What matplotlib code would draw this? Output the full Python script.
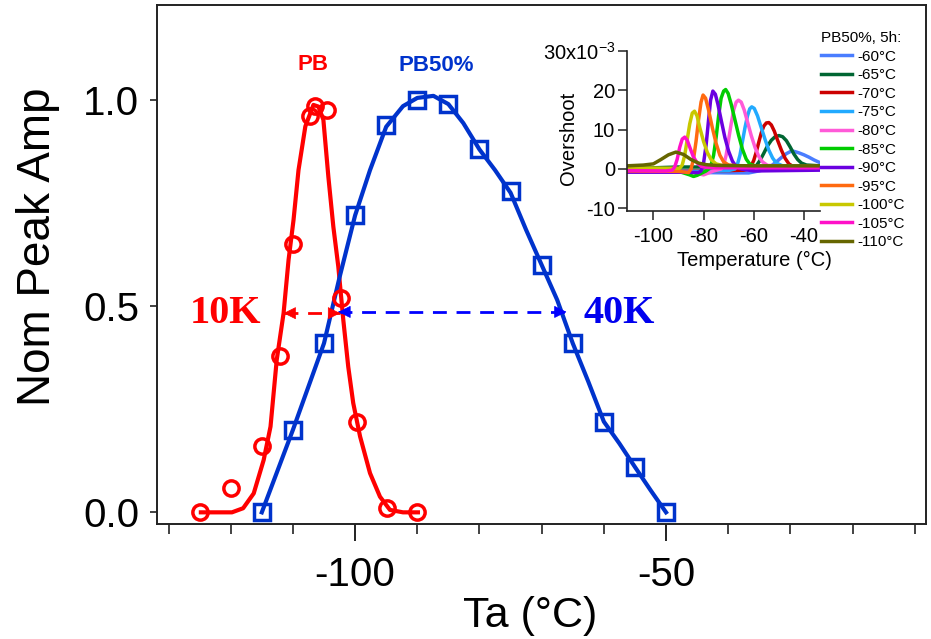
import numpy as np
import matplotlib.pyplot as plt

plt.rcParams['font.family'] = ['Liberation Sans', 'DejaVu Sans']
plt.rcParams['mathtext.default'] = 'regular'
plt.rcParams['axes.unicode_minus'] = False

# --- main plot data ---
pb_x = [-125, -120, -115, -112, -110, -107.2, -106.4, -104.5, -102.2, -99.7, -94.8, -90]
pb_y = [0.0, 0.06, 0.16, 0.38, 0.65, 0.96, 0.985, 0.975, 0.52, 0.22, 0.01, 0.0]

pb_fit_x = [-124.8, -119.8, -118.0, -116.3, -114.7, -113.6, -112.6, -111.5, -110.7, -109.9, -109.1,
            -108.0, -106.7, -105.9, -105.1, -104.3, -103.5, -102.7, -101.9, -101.1, -100.3, -99.2,
            -97.6, -96.0, -94.4, -92.3, -89.9]
pb_fit_y = [0.0, 0.0, 0.01, 0.046, 0.127, 0.208, 0.37, 0.483, 0.612, 0.709, 0.83,
            0.936, 0.988, 0.984, 0.952, 0.814, 0.693, 0.596, 0.467, 0.353, 0.265, 0.184,
            0.095, 0.038, 0.006, 0.0, 0.0]

pb50_x = [-115, -110, -105, -100, -95, -90, -85, -80, -75, -70, -65, -60, -55, -50]
pb50_y = [0.0, 0.20, 0.41, 0.72, 0.94, 1.0, 0.99, 0.88, 0.78, 0.60, 0.41, 0.22, 0.11, 0.0]

pb50_fit_x = [-115, -110, -105, -102.5, -100, -97.6, -95, -92.3, -90, -87.4, -85, -82.6, -80,
              -77.5, -75, -72.5, -70, -67.5, -65, -62.5, -60, -57.5, -55, -52.5, -50]
pb50_fit_y = [0.0, 0.2, 0.41, 0.57, 0.72, 0.83, 0.935, 0.985, 1.005, 1.01, 0.99, 0.944, 0.88,
              0.83, 0.775, 0.685, 0.60, 0.515, 0.41, 0.317, 0.22, 0.167, 0.11, 0.054, 0.0]

# FWHM arrows
red_arrow_x = [-111.5, -102.4]
blue_arrow_x = [-102.7, -66.0]
arrow_y = 0.486

# --- inset data: overshoot vs temperature, PB50% 5h ---
inset_labels = ['-60°C', '-65°C', '-70°C', '-75°C', '-80°C', '-85°C',
                '-90°C', '-95°C', '-100°C', '-105°C', '-110°C']
inset_colors = ['#4a7dff', '#006633', '#cc0000', '#22aaff', '#ff5ad8', '#00cc00',
                '#6a00e0', '#ff6a10', '#c8c800', '#ff10c8', '#666600']

c60_x = [-110.6, -90, -80, -70, -62, -58, -55, -53, -51, -49, -47, -45.5, -44.5, -43.5, -42, -40,
         -38, -36, -33.6]
c60_y = [-0.8, -0.8, -0.9, -1.0, -1.0, -0.5, 0.0, 0.8, 1.8, 2.9, 3.9, 4.4, 4.55, 4.4, 4.1, 3.6,
         3.0, 2.3, 1.6]
c65_x = [-110.6, -100, -90, -75, -62, -60, -59, -57.5, -56, -54.5, -53, -51.5, -50, -48.5, -47,
         -45.5, -44, -42.5, -41, -39, -33.6]
c65_y = [0.3, 0.3, 0.5, 0.5, 0.2, 0.2, 0.8, 2.2, 4.0, 5.9, 7.3, 8.2, 8.5, 8.2, 7.2,
         5.6, 3.8, 2.4, 1.5, 1.0, 0.8]
c70_x = [-110.6, -75, -64, -62, -61, -60, -59, -58, -57, -56, -55, -54, -53, -51.8, -50.5, -49,
         -47.5, -46, -44, -33.6]
c70_y = [-0.5, -0.5, -0.3, 0.0, 0.8, 2.2, 4.3, 6.8, 9.2, 10.9, 11.7, 11.8, 11.2, 9.6, 7.3, 4.8,
         2.7, 1.3, 0.5, 0.4]
c75_x = [-110.6, -80, -70, -67.5, -66.5, -65.5, -64.5, -63.5, -62.5, -61.6, -60.8, -59.8, -58.5,
         -57, -55.5, -54, -52.5, -51, -48.5, -33.6]
c75_y = [-0.6, -0.6, -0.4, 0.0, 1.2, 3.5, 7.0, 10.5, 13.5, 15.3, 15.8, 15.4, 13.5,
         10.5, 7.5, 4.8, 2.8, 1.5, 0.8, 0.5]
c80_x = [-110.6, -85, -80, -76, -73, -72, -71, -70, -69, -68, -67, -66.1, -65, -63.8, -62.5,
         -61, -59.5, -58, -56.5, -54.5, -33.6]
c80_y = [-0.8, -0.8, -1.5, -0.5, 0.0, 1.0, 3.5, 7.5, 11.5, 15.0, 17.0, 17.5, 17.0, 15.0, 12.0,
         8.5, 5.5, 3.2, 1.8, 0.9, 0.6]
c85_x = [-110.6, -90, -85.5, -84, -82.5, -79, -78, -77, -76, -75, -74, -73, -72, -71.2, -70.2,
         -69, -67.5, -66, -64.5, -63, -61.5, -59, -33.6]
c85_y = [-0.5, -0.6, -1.5, -1.9, -1.6, -0.5, 0.0, 1.0, 3.5, 8.0, 13.5, 18.0, 19.8, 20.2, 19.2,
         16.5, 12.5, 8.5, 5.0, 2.5, 1.2, 0.7, 0.7]
c90_x = [-110.6, -90, -82, -81, -80, -79, -78, -77.2, -76.3, -75.3, -74.3, -73, -71.5, -70,
         -68.5, -67, -65, -60, -33.6]
c90_y = [-0.8, -0.8, -0.9, -0.5, 1.5, 6.0, 12.5, 17.5, 19.8, 19.0, 16.5, 12.5, 8.0, 4.5,
         2.0, 0.6, 0.0, -0.5, -0.3]
c95_x = [-110.6, -90, -86, -85, -84, -83, -82, -81, -80.2, -79.2, -78, -76.5, -75, -73.5, -72,
         -70, -60, -33.6]
c95_y = [-0.5, -0.6, -0.9, 0.0, 2.5, 7.0, 12.5, 17.0, 18.8, 18.0, 15.0, 10.5, 6.5, 3.5, 1.8,
         1.0, 0.5, 0.5]
c100_x = [-110.6, -95, -89.5, -88.5, -87.5, -86.5, -85.5, -84.5, -83.6, -82.6, -81.5, -80, -78.5,
          -77, -75, -72, -60, -33.6]
c100_y = [0.3, 0.2, 0.2, 1.0, 3.5, 7.5, 11.5, 14.2, 14.7, 13.5, 10.5, 7.0, 4.2,
          2.4, 1.3, 0.8, 0.6, 0.6]
c105_x = [-110.6, -95, -92.5, -91.5, -90.5, -89.5, -88.5, -87.5, -86.5, -85.3, -84, -82.5, -81,
          -79, -75, -60, -33.6]
c105_y = [-0.4, -0.5, -0.3, 0.5, 2.5, 5.5, 7.6, 8.1, 7.3, 5.2, 3.0, 1.5, 0.7,
          0.4, 0.3, 0.3, 0.3]
c110_x = [-110.6, -104, -100, -97, -94, -91, -88, -85, -82, -79, -75, -60, -45, -33.6]
c110_y = [0.8, 1.0, 1.3, 2.4, 3.6, 4.3, 3.7, 2.4, 1.5, 1.1, 0.9, 0.8, 0.8, 0.8]

inset_x = [c60_x, c65_x, c70_x, c75_x, c80_x, c85_x, c90_x, c95_x, c100_x, c105_x, c110_x]
inset_y = [c60_y, c65_y, c70_y, c75_y, c80_y, c85_y, c90_y, c95_y, c100_y, c105_y, c110_y]

red = '#ff0000'
blue = '#0033cc'

fig = plt.figure(figsize=(9.31, 6.39), dpi=100)
ax = fig.add_axes([0.169, 0.1795, 0.8256, 0.8131])

ax.plot(pb_fit_x, pb_fit_y, color=red, lw=3, zorder=3)
ax.plot(pb_x, pb_y, 'o', ms=11, mfc='none', mec=red, mew=2.5, zorder=4)
ax.plot(pb50_fit_x, pb50_fit_y, color=blue, lw=3, zorder=3)
ax.plot(pb50_x, pb50_y, 's', ms=12, mfc='none', mec=blue, mew=2.5, zorder=4)


def dashed_arrow(x0, x1, y, color):
    ax.plot([x0, x1], [y, y], color=color, lw=2, dashes=(5, 3.5), zorder=5)
    for tip, tail in [(x0, x0 + 1), (x1, x1 - 1)]:
        ax.annotate('', xy=(tip, y), xytext=(tail, y),
                    arrowprops=dict(arrowstyle='-|>', color=color, lw=0.5,
                                    mutation_scale=20, shrinkA=0, shrinkB=0),
                    zorder=6)


dashed_arrow(blue_arrow_x[0], blue_arrow_x[1], arrow_y, '#0000ff')
dashed_arrow(red_arrow_x[0], red_arrow_x[1], arrow_y - 0.003, red)

ax.text(-106.75, 1.085, 'PB', color=red, fontsize=16, fontweight='bold', ha='center', va='center')
ax.text(-87.0, 1.083, 'PB50%', color=blue, fontsize=16, fontweight='bold', ha='center', va='center')
ax.text(-120.9, 0.483, '10K', color=red, fontsize=29, fontweight='bold',
        family='Liberation Serif', ha='center', va='center')
ax.text(-57.6, 0.483, '40K', color='#0000ee', fontsize=29, fontweight='bold',
        family='Liberation Serif', ha='center', va='center')

ax.set_xlim(-131.8, -8.2)
ax.set_ylim(-0.029, 1.231)
ax.set_xticks([-100, -50])
ax.set_xticks(np.arange(-130, -9, 10), minor=True)
ax.set_yticks([0.0, 0.5, 1.0])
ax.set_yticklabels(['0.0', '0.5', '1.0'])
ax.tick_params(axis='x', which='major', direction='out', length=12, width=1.4,
               labelsize=29, pad=11, color='#222222')
ax.tick_params(axis='x', which='minor', direction='out', length=7, width=1.2, color='#222222')
ax.tick_params(axis='y', which='major', direction='out', length=5, width=1.2,
               labelsize=29, pad=8, color='#222222')
for s in ax.spines.values():
    s.set_linewidth(1.4)
    s.set_color('#222222')
ax.set_xlabel('Ta (°C)', fontsize=31)
ax.xaxis.set_label_coords(0.485, -0.138)
ax.set_ylabel('Nom Peak Amp', fontsize=33)
ax.yaxis.set_label_coords(-0.126, 0.534)

# --- inset ---
ax_in = fig.add_axes([0.6732, 0.6703, 0.2076, 0.2499])
ax_in.set_facecolor('none')
handles = []
for xs, ys, c, lab in zip(inset_x, inset_y, inset_colors, inset_labels):
    h, = ax_in.plot(xs, ys, color=c, lw=2.5, label=lab)
    handles.append(h)
ax_in.set_xlim(-110.6, -33.6)
ax_in.set_ylim(-10.6, 30)
ax_in.set_xticks([-100, -80, -60, -40])
ax_in.set_yticks([-10, 0, 10, 20, 30])
ax_in.set_yticklabels(['-10', '0', '10', '20', '30x10$^{-3}$'])
ax_in.spines['top'].set_visible(False)
ax_in.spines['right'].set_visible(False)
for s in ['left', 'bottom']:
    ax_in.spines[s].set_linewidth(1.2)
    ax_in.spines[s].set_color('#222222')
ax_in.tick_params(direction='out', length=6.5, width=1.1, labelsize=14.5, pad=2, color='#222222')
ax_in.tick_params(axis='x', pad=5)
ax_in.set_xlabel('Temperature (°C)', fontsize=14.5)
ax_in.xaxis.set_label_coords(0.66, -0.25)
ax_in.set_ylabel('Overshoot', fontsize=14.5)
ax_in.yaxis.set_label_coords(-0.25, 0.452)
leg = ax_in.legend(handles=handles, title='PB50%, 5h:', loc='upper left',
                   bbox_to_anchor=(821 / 931, 1 - 31 / 639), bbox_transform=fig.transFigure,
                   frameon=False, fontsize=11, title_fontsize=11, alignment='left',
                   handlelength=2.0, handletextpad=0.4, labelspacing=0.3,
                   borderpad=0, borderaxespad=0)

fig.savefig('out.png', dpi=100)
